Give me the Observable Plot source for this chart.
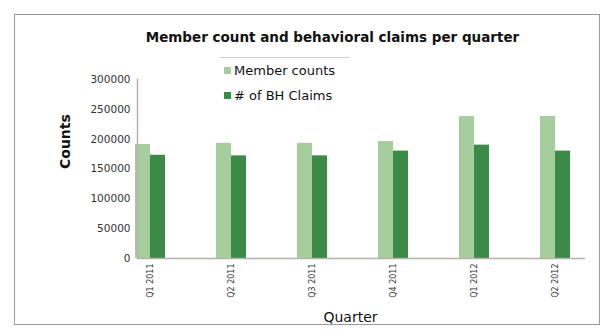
<!DOCTYPE html>
<html>
<head>
<meta charset="utf-8">
<script src="https://cdn.jsdelivr.net/npm/d3@7"></script>
<script src="https://cdn.jsdelivr.net/npm/@observablehq/plot@0.6"></script>
<style>
  html, body { margin: 0; padding: 0; background: #fff; }
  #wrap { position: relative; width: 613px; height: 333px; overflow: hidden; font-family: "DejaVu Sans", Verdana, sans-serif; }
  #frame { position: absolute; left: 14px; top: 14px; width: 586px; height: 311px; border: 1px solid #9a9a9a; box-sizing: border-box; }
  #title { position: absolute; left: 0; width: 665px; top: 29px; text-align: center; font-size: 13.5px; font-weight: bold; color: #111; }
  #legend { position: absolute; left: 220px; top: 57px; width: 130px; height: 48px; border-top: 1px solid #d0d0d0; font-size: 13px; color: #111; }
  .item { position: absolute; left: 4px; display: flex; align-items: center; gap: 3px; white-space: nowrap; }
  .sw { width: 7px; height: 7px; display: inline-block; }
  #chart { position: absolute; left: 0; top: 0; }
</style>
</head>
<body>
<div id="wrap">
  <div id="chart"></div>
  <div id="frame"></div>
  <div id="title"></div>
  <div id="legend"></div>
</div>
<script>
const title = "Member count and behavioral claims per quarter";
const quarters = ["Q1 2011", "Q2 2011", "Q3 2011", "Q4 2011", "Q1 2012", "Q2 2012"];
const memberCounts = [191000, 193000, 193000, 196000, 238000, 238000];
const bhClaims = [173000, 172000, 172000, 180000, 190000, 180000];
const seriesNames = ["Member counts", "# of BH Claims"];
const seriesColors = ["#a6cd9e", "#3b8a47"];
const yTicks = [0, 50000, 100000, 150000, 200000, 250000, 300000];

const rows = quarters.map((q, i) => ({q, member: memberCounts[i], claims: bhClaims[i]}));

const chart = Plot.plot({
  width: 613,
  height: 333,
  marginLeft: 137,
  marginRight: 28,
  marginTop: 79,
  marginBottom: 75,
  style: {fontFamily: "'DejaVu Sans', Verdana, sans-serif", fontSize: "10px", color: "#333", background: "transparent"},
  x: {domain: quarters, range: [135, 570], paddingInner: 0.63, paddingOuter: 0, label: null},
  y: {domain: [0, 300000], label: null},
  marks: [
    Plot.barY(rows, {x: "q", y: "member", fill: seriesColors[0], insetRight: 15}),
    Plot.barY(rows, {x: "q", y: "claims", fill: seriesColors[1], insetLeft: 15}),
    Plot.frame({anchor: "left", stroke: "#b8b0aa", strokeWidth: 1.5}),
    Plot.axisY({ticks: yTicks, tickFormat: d => String(d), tickSize: 0, tickPadding: 7, fontSize: 10.5, label: null}),
    Plot.axisX({tickRotate: -90, tickSize: 0, tickPadding: 5, fontSize: 8, label: null}),
    Plot.ruleY([0], {stroke: "#b8b0aa", strokeWidth: 1.5}),
    Plot.text(["Counts"], {frameAnchor: "left", dx: -72, rotate: -90, fontSize: 14, fontWeight: "bold", fill: "#111"}),
    Plot.text(["Quarter"], {frameAnchor: "bottom", dy: 63, dx: -11, fontSize: 14, fill: "#111"})
  ]
});
document.getElementById("chart").appendChild(chart);

document.getElementById("title").textContent = title;
const leg = document.getElementById("legend");
seriesNames.forEach((name, i) => {
  const it = document.createElement("div");
  it.className = "item";
  it.style.top = (5 + i * 25) + "px";
  it.innerHTML = `<span class="sw" style="background:${seriesColors[i]}"></span><span>${name}</span>`;
  leg.appendChild(it);
});
</script>
</body>
</html>
